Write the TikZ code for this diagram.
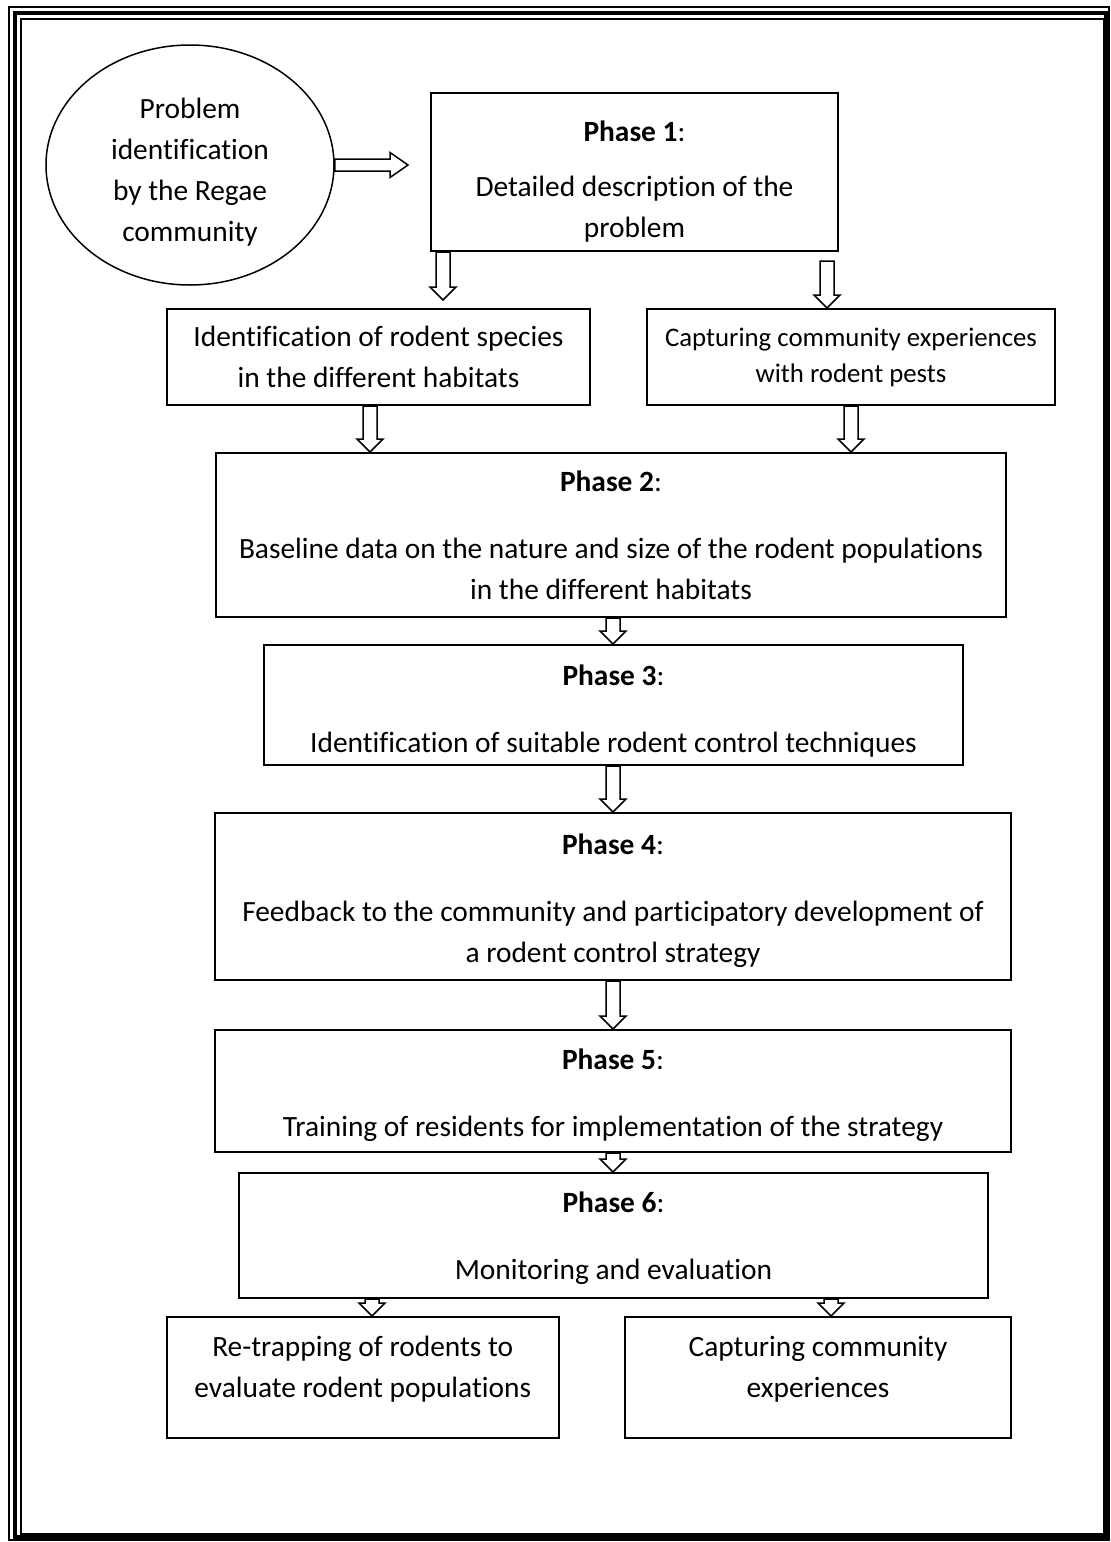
\documentclass[tikz,border=0pt]{standalone}
\usepackage{fontspec}
\setmainfont{Carlito}[Ligatures=NoCommon]
\usetikzlibrary{shapes.geometric,calc}
\newcommand\hollowdn[3]{\draw[blockarrow] let \p0=(#1,0), \p1=(#2), \p2=(#3) in (\x0-3.5pt,\y1) -- (\x0-3.5pt,\y2+6.5pt) -- (\x0-6.5pt,\y2+6.5pt) -- (\x0,\y2) -- (\x0+6.5pt,\y2+6.5pt) -- (\x0+3.5pt,\y2+6.5pt) -- (\x0+3.5pt,\y1) -- cycle;}
\newcommand\vpad[1]{\rule{0pt}{#1}}
\newcommand\vdip[1]{\rule[-#1]{0pt}{#1}}
\begin{document}
\begin{tikzpicture}[x=0.5pt,y=-0.5pt,
  box/.style={draw,line width=1pt,rectangle,align=center,inner sep=0pt,font=\fontsize{14.7}{20.5}\selectfont},
  blockarrow/.style={draw,line width=0.75pt,fill=white,line join=miter}]
\useasboundingbox (0,0) rectangle (1110,1542);
\draw[line width=0.6pt] (9,7) rectangle (1109,1540);
\draw[line width=2.2pt] (15,13) rectangle (1106.5,1537);
\draw[line width=0.8pt] (21,19) rectangle (1104,1534);
\node[box,ellipse,line width=0.75pt,minimum width=144pt,minimum height=120pt] (ell) at (190,165) {\vpad{17pt}Problem\\identification\\by the Regae\\community};
\node[box,minimum width=203.5pt,minimum height=79pt] (ph1) at (634.5,172) {\vpad{19.5pt}\textbf{Phase 1}:\\[7pt]Detailed description of the\\problem};
\node[box,minimum width=211.5pt,minimum height=48pt] (spc) at (378.5,357) {Identification of rodent species\\in the different habitats};
\node[box,minimum width=204pt,minimum height=48pt,font=\fontsize{13.4}{18}\selectfont] (exp) at (851,357) {Capturing community experiences\\with rodent pests};
\node[box,minimum width=395pt,minimum height=82pt] (ph2) at (611,535) {\textbf{Phase 2}:\\[13pt]Baseline data on the nature and size of the rodent populations\\in the different habitats};
\node[box,minimum width=349.5pt,minimum height=60pt] (ph3) at (613.5,705) {\vpad{16.5pt}\textbf{Phase 3}:\\[13pt]Identification of suitable rodent control techniques};
\node[box,minimum width=398pt,minimum height=83.5pt] (ph4) at (613,896.5) {\vpad{14.5pt}\textbf{Phase 4}:\\[13pt]Feedback to the community and participatory development of\\a rodent control strategy};
\node[box,minimum width=398pt,minimum height=61pt] (ph5) at (613,1091) {\vpad{14.5pt}\textbf{Phase 5}:\\[13pt]Training of residents for implementation of the strategy};
\node[box,minimum width=374.5pt,minimum height=62.5pt] (ph6) at (613.5,1235.5) {\vpad{13.5pt}\textbf{Phase 6}:\\[13pt]Monitoring and evaluation};
\node[box,minimum width=195.75pt,minimum height=60.5pt] (rtp) at (362.75,1377.5) {Re-trapping of rodents to\\evaluate rodent populations\vdip{10.7pt}};
\node[box,minimum width=193.25pt,minimum height=60.5pt] (cce) at (818,1377.5) {Capturing community\\experiences\vdip{10.7pt}};
\coordinate (e1) at (408,165);
\coordinate (t1) at (443,300);
\coordinate (t2) at (827,261);
\draw[blockarrow] let \p1=(ell.east), \p2=(e1) in (\x1,\y1+3pt) -- (\x2-9pt,\y1+3pt) -- (\x2-9pt,\y1+6.25pt) -- (\x2,\y2) -- (\x2-9pt,\y1-6.25pt) -- (\x2-9pt,\y1-3pt) -- (\x1,\y1-3pt) -- cycle;
\hollowdn{443}{ph1.south}{t1}
\hollowdn{827}{t2}{exp.north}
\hollowdn{370}{spc.south}{ph2.north}
\hollowdn{851}{exp.south}{ph2.north}
\hollowdn{613}{ph2.south}{ph3.north}
\hollowdn{613}{ph3.south}{ph4.north}
\hollowdn{613}{ph4.south}{ph5.north}
\hollowdn{613}{ph5.south}{ph6.north}
\hollowdn{372}{ph6.south}{rtp.north}
\hollowdn{831}{ph6.south}{cce.north}
\end{tikzpicture}
\end{document}
